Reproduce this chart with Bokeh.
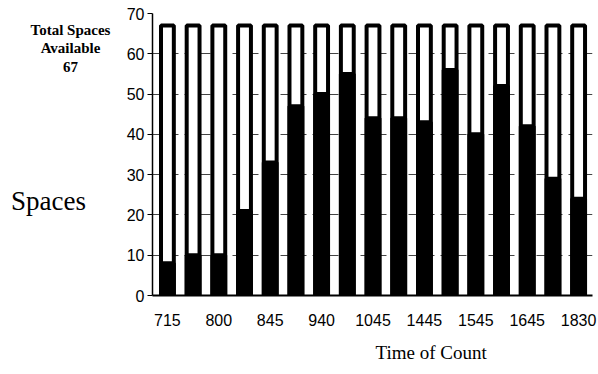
from bokeh.plotting import figure
from bokeh.models import Range1d, FixedTicker, ColumnDataSource, Title
from bokeh.layouts import row
from bokeh.core.properties import value
from bokeh.embed import file_html
from bokeh.resources import INLINE

# Data
positions = list(range(1, 18))
occupied = [8, 10, 10, 21, 33, 47, 50, 55, 44, 44, 43, 56, 40, 52, 42, 29, 24]
total_spaces = 67
tick_positions = [1, 3, 5, 7, 9, 11, 13, 15, 17]
tick_labels = ["715", "800", "845", "940", "1045", "1445", "1545", "1645", "1830"]
note_lines = ["Total Spaces", "Available", str(total_spaces)]
y_title = "Spaces"
x_title = "Time of Count"

src = ColumnDataSource(dict(x=positions, occ=occupied, tot=[total_spaces] * len(positions)))

# Left text panel (its frame aligns with the main chart's frame: screen y 13..297)
LW = 120
left = figure(width=LW, height=374, output_backend="svg", toolbar_location=None,
              x_range=Range1d(0, LW), y_range=Range1d(297, 13),
              x_axis_location=None, y_axis_location=None, title=None,
              min_border=0, min_border_left=0, min_border_right=0,
              min_border_top=0, min_border_bottom=0)
left.grid.visible = False
left.outline_line_color = None
left.text(x=[70, 70, 70], y=[30, 48, 67], text=note_lines, text_align="center",
          text_baseline="middle", text_font=value("Liberation Serif"),
          text_font_size="15px", text_font_style="bold", text_color="black")
left.text(x=[48], y=[202], text=[y_title], text_align="center", text_baseline="middle",
          text_font=value("Liberation Serif"), text_font_size="27px", text_color="black")

# Main chart
p = figure(width=598 - LW, height=374, output_backend="svg", toolbar_location=None,
           x_range=Range1d(0.42, 17.54), y_range=Range1d(0, 70),
           min_border_left=152 - LW, min_border_right=6, min_border_top=13, min_border_bottom=77)
p.outline_line_color = None

p.vbar(x="x", top="tot", bottom=0, width=0.5, source=src,
       fill_color="white", line_color="black", line_width=4)
p.vbar(x="x", top="occ", bottom=0, width=0.5, source=src,
       fill_color="black", line_color="black", line_width=4)

p.xgrid.grid_line_color = None
p.ygrid.grid_line_color = "#444444"
p.ygrid.grid_line_dash = "10 6"
p.ygrid.grid_line_width = 1

p.yaxis.ticker = FixedTicker(ticks=[0, 10, 20, 30, 40, 50, 60, 70])
p.yaxis.major_label_text_font = "Liberation Sans"
p.yaxis.major_label_text_font_size = "16px"
p.yaxis.major_label_text_color = "black"
p.yaxis.axis_line_color = "black"
p.yaxis.axis_line_width = 1.5
p.yaxis.major_tick_line_color = "black"
p.yaxis.major_tick_in = 0
p.yaxis.major_tick_out = 5
p.yaxis.minor_tick_line_color = None
p.yaxis.major_label_standoff = 3

p.xaxis.ticker = FixedTicker(ticks=tick_positions)
p.xaxis.major_label_overrides = {t: l for t, l in zip(tick_positions, tick_labels)}
p.xaxis.major_label_text_font = "Liberation Sans"
p.xaxis.major_label_text_font_size = "16px"
p.xaxis.major_label_text_color = "black"
p.xaxis.axis_line_color = "black"
p.xaxis.axis_line_width = 2
p.xaxis.major_tick_line_color = None
p.xaxis.minor_tick_line_color = None
p.xaxis.major_label_standoff = 12

p.add_layout(Title(text=x_title, align="left", offset=375 - 152, standoff=23,
                   text_font="Liberation Serif", text_font_size="19px",
                   text_font_style="normal", text_color="black"), "below")

layout = row(left, p, spacing=0)
open("out.html", "w").write(file_html(layout, INLINE))
